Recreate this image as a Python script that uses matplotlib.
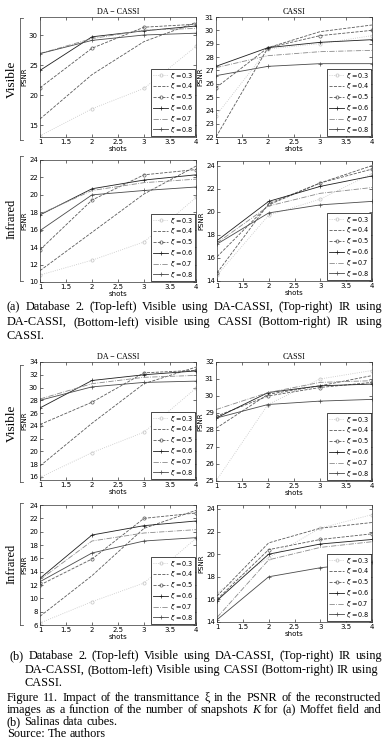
import matplotlib

matplotlib.use("Agg")
import matplotlib.pyplot as plt
from matplotlib.lines import Line2D

W, H = 386, 751

SHOTS = [1, 2, 3, 4]
XI = [0.3, 0.4, 0.5, 0.6, 0.7, 0.8]
X_TICKS = [1, 1.5, 2, 2.5, 3, 3.5, 4]
X_TICK_LABELS = ["1", "1.5", "2", "2.5", "3", "3.5", "4"]

# PSNR per xi (rows: 0.3 .. 0.8), columns: shots 1..4
# (a) Moffet field
A_VIS_DA = [[13.2, 17.7, 21.1, 28.1],
            [16.0, 23.4, 28.9, 32.1],
            [21.2, 27.8, 31.3, 31.8],
            [24.1, 29.7, 30.7, 31.5],
            [26.9, 29.4, 30.8, 31.1],
            [26.9, 29.1, 30.0, 30.3]]
A_VIS_CA = [[23.6, 28.6, 29.0, 29.6],
            [22.0, 28.7, 29.9, 30.4],
            [25.7, 28.7, 29.6, 30.0],
            [27.3, 28.7, 29.1, 29.3],
            [27.2, 28.1, 28.4, 28.5],
            [26.6, 27.3, 27.5, 27.5]]
A_IR_DA = [[10.8, 12.5, 14.6, 19.7],
           [11.3, 15.7, 20.1, 23.3],
           [13.7, 19.4, 22.3, 22.9],
           [17.7, 20.7, 21.7, 22.3],
           [17.8, 20.5, 21.4, 21.8],
           [15.9, 20.0, 20.5, 20.9]]
A_IR_CA = [[14.5, 19.7, 21.1, 23.3],
           [16.1, 20.6, 22.5, 24.0],
           [14.7, 20.7, 22.5, 23.7],
           [17.5, 20.9, 22.2, 23.1],
           [17.3, 20.5, 21.6, 22.1],
           [17.2, 19.9, 20.6, 20.9]]
# (b) Salinas
B_VIS_DA = [[15.9, 19.8, 23.0, 29.9],
            [17.7, 24.4, 30.6, 33.2],
            [24.2, 27.7, 32.3, 32.7],
            [26.8, 31.1, 32.0, 32.6],
            [28.2, 30.6, 31.6, 31.9],
            [28.0, 30.1, 30.8, 31.0]]
B_VIS_CA = [[25.0, 29.5, 31.0, 31.5],
            [28.1, 30.1, 30.6, 31.2],
            [28.8, 30.0, 30.5, 30.8],
            [28.7, 30.2, 30.6, 30.7],
            [29.2, 30.2, 30.8, 30.9],
            [28.7, 29.5, 29.7, 29.8]]
B_IR_DA = [[6.3, 9.5, 12.3, 19.0],
           [7.3, 13.4, 20.5, 23.2],
           [12.0, 15.9, 22.0, 22.8],
           [13.0, 19.5, 20.9, 21.6],
           [12.8, 18.6, 19.8, 20.3],
           [12.5, 16.8, 18.6, 19.1]]
B_IR_CA = [[16.6, 19.7, 22.3, 23.5],
           [16.3, 21.0, 22.3, 22.8],
           [16.0, 20.4, 21.3, 21.8],
           [15.9, 20.0, 20.9, 21.3],
           [14.4, 19.5, 20.6, 21.1],
           [14.2, 18.0, 18.8, 19.3]]

# grayscale Matlab-ish styles for xi = 0.3 .. 0.8
STYLES = [dict(color="#c4c4c4", ls=":", marker="o", mfc="none", ms=2.3),
          dict(color="#5a5a5a", ls="--", marker="", ms=2.3),
          dict(color="#5a5a5a", ls="--", marker="o", mfc="none", ms=2.3),
          dict(color="#1e1e1e", ls="-", marker="+", ms=3.0),
          dict(color="#8a8a8a", ls="-.", marker="", ms=2.3),
          dict(color="#4a4a4a", ls="-", marker="+", ms=3.0)]

SERIF = "Liberation Serif"


def box(x0, y0, x1, y1):
    return [x0 / W, 1 - y1 / H, (x1 - x0) / W, (y1 - y0) / H]


def panel(fig, rect, data, ylim, yticks, title=None):
    ax = fig.add_axes(box(*rect))
    for row, xi, st in zip(data, XI, STYLES):
        ax.plot(SHOTS, row, lw=0.6, mew=0.5, label=rf"$\xi$ =%.1f" % xi, **st)
    ax.set_xlim(1, 4)
    ax.set_ylim(*ylim)
    ax.set_xticks(X_TICKS)
    ax.set_xticklabels(X_TICK_LABELS)
    ax.set_yticks(yticks)
    ax.tick_params(direction="in", length=2, width=0.4, labelsize=5, pad=1.5,
                   top=True, right=True)
    for s in ax.spines.values():
        s.set_linewidth(0.5)
        s.set_color("#333333")
    ax.set_xlabel("shots", fontsize=5, labelpad=1)
    ax.set_ylabel("PSNR", fontsize=5, labelpad=1)
    if title:
        ax.set_title(title, fontsize=5.8, family=SERIF, pad=2)
    leg = ax.legend(loc="lower right", fontsize=4.7, borderaxespad=0.12, handlelength=2.3,
                    labelspacing=0.12, borderpad=0.25, handletextpad=0.35, fancybox=False,
                    framealpha=1)
    leg.get_frame().set_edgecolor("black")
    leg.get_frame().set_linewidth(0.5)
    return ax


def row_label(fig, text, y0, y1, size):
    fig.add_artist(Line2D([20 / W, 20 / W], [1 - y0 / H, 1 - y1 / H], lw=0.6, color="#555555"))
    for y in (y0, y1):
        fig.add_artist(Line2D([20 / W, 23 / W], [1 - y / H, 1 - y / H], lw=0.6, color="#555555"))
    fig.text(12 / W, 1 - (y0 + y1) / 2 / H, text, rotation=90, ha="center", va="center",
             fontsize=size, family=SERIF)


def line(fig, rend, text, x0, y, x1=None, size=8.8):
    words = text.split()
    texts = [fig.text(0, 1 - y / H, w, fontsize=size, family=SERIF, va="center",
                      style="italic" if w == "K" else "normal") for w in words]
    widths = [t.get_window_extent(rend).width for t in texts]
    if x1 is None:
        gap = 0.25 * size * 100 / 72
    else:
        gap = (x1 - x0 - sum(widths)) / (len(words) - 1)
    x = x0
    for t, w in zip(texts, widths):
        t.set_x(x / W)
        x += w + gap


def main():
    fig = plt.figure(figsize=(W / 100, H / 100), dpi=100)
    fig.patch.set_facecolor("white")

    panel(fig, (40, 17, 196, 137), A_VIS_DA, (13, 33), [15, 20, 25, 30], "DA \u2212 CASSI")
    panel(fig, (216, 17, 372, 137), A_VIS_CA, (22, 31), range(22, 32), "CASSI")
    panel(fig, (40, 160, 196, 282), A_IR_DA, (10, 24), range(10, 25, 2))
    panel(fig, (217, 161, 372, 281), A_IR_CA, (14, 24.4), range(14, 25, 2))

    panel(fig, (40, 362, 196, 480), B_VIS_DA, (15.5, 34), range(16, 35, 2), "DA \u2212 CASSI")
    panel(fig, (216, 362, 372, 481), B_VIS_CA, (25, 32), range(25, 33), "CASSI")
    panel(fig, (40, 505, 196, 625), B_IR_DA, (6, 24), range(6, 25, 2))
    panel(fig, (217, 505, 372, 622), B_IR_CA, (14, 24.35), range(14, 25, 2))

    row_label(fig, "Visible", 18, 140, 9.5)
    row_label(fig, "Infrared", 156, 281, 9)
    row_label(fig, "Visible", 365, 482, 9.5)
    row_label(fig, "Infrared", 503, 625, 9)

    rend = fig.canvas.get_renderer()
    line(fig, rend, "(a) Database 2. (Top-left) Visible using DA-CASSI, (Top-right) IR using", 7, 307, 382)
    line(fig, rend, "DA-CASSI, (Bottom-left) visible using CASSI (Bottom-right) IR using", 7, 322, 382)
    line(fig, rend, "CASSI.", 7, 336)
    line(fig, rend, "(b) Database 2. (Top-left) Visible using DA-CASSI, (Top-right) IR using", 10, 656, 382)
    line(fig, rend, "DA-CASSI, (Bottom-left) Visible using CASSI (Bottom-right) IR using", 25, 670, 378)
    line(fig, rend, "CASSI.", 25, 683)
    line(fig, rend, "Figure 11. Impact of the transmittance \u03be in the PSNR of the reconstructed", 7, 698, 381)
    line(fig, rend, "images as a function of the number of snapshots K for (a) Moffet field and", 7, 710, 381)
    line(fig, rend, "(b) Salinas data cubes.", 7, 722)
    line(fig, rend, "Source: The authors", 7, 734)

    fig.savefig("out.png", dpi=100)


if __name__ == "__main__":
    main()
